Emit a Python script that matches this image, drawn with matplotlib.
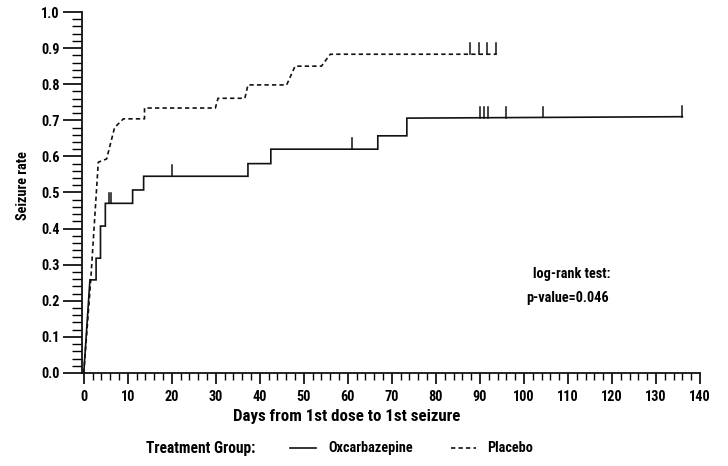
import matplotlib
matplotlib.use("Agg")
import matplotlib.pyplot as plt
from matplotlib import font_manager
from matplotlib.lines import Line2D
from matplotlib.ticker import MultipleLocator, FormatStrFormatter

# --- Data ---
# Kaplan-Meier curve corners, days vs cumulative seizure rate
oxc_days = [0, 1.4, 2.8, 2.8, 3.8, 3.8, 4.9, 4.9, 11.1, 11.1, 13.6, 13.6,
            37.3, 37.3, 42.5, 42.5, 66.8, 66.8, 73.4, 73.4, 136.0]
oxc_rate = [0, 0.258, 0.258, 0.318, 0.318, 0.407, 0.407, 0.47, 0.47, 0.507,
            0.507, 0.545, 0.545, 0.58, 0.58, 0.62, 0.62, 0.657, 0.657, 0.706, 0.71]
oxc_cens_days = [5.7, 6.2, 20.0, 61.0, 90.0, 90.9, 91.8, 95.9, 104.3, 135.9]
oxc_cens_rate = [0.47, 0.47, 0.545, 0.62, 0.706, 0.706, 0.706, 0.707, 0.708, 0.71]

pla_days = [0, 1.6, 3.3, 5.2, 7.0, 9.0, 13.8, 13.8, 29.9, 30.5, 36.6, 37.3,
            46.1, 48.0, 54.0, 56.0, 93.8]
pla_rate = [0, 0.26, 0.584, 0.593, 0.68, 0.704, 0.704, 0.734, 0.734, 0.761,
            0.761, 0.798, 0.798, 0.85, 0.85, 0.883, 0.883]
pla_cens_days = [87.7, 89.8, 91.6, 93.6]
pla_cens_rate = [0.883, 0.883, 0.883, 0.883]

labels = ['Oxcarbazepine', 'Placebo']
pvalue_text = 'p-value=0.046'

# --- Font: a condensed sans if we have one ---
names = {f.name for f in font_manager.fontManager.ttflist}
family = 'DejaVu Sans'
for cand in ['Roboto Condensed', 'Archivo Narrow', 'PT Sans Narrow', 'Liberation Sans Narrow',
             'Asap Condensed', 'Encode Sans Condensed', 'Open Sans Condensed']:
    if cand in names:
        family = cand
        break
plt.rcParams['font.family'] = [family, 'DejaVu Sans']
FS = 10.3
W = 'bold'
INK = '#111111'
DASH = (0, (2.6, 1.9))

fig = plt.figure(figsize=(7.28, 4.66), dpi=100)
ax = fig.add_axes([82 / 728, 1 - 373 / 466, (700 - 82) / 728, (373 - 12) / 466])

ax.plot(oxc_days, oxc_rate, color=INK, lw=1.2, solid_joinstyle='miter')
ax.plot(pla_days, pla_rate, color=INK, lw=1.2, linestyle=DASH)

tick_h = 0.03
for d, r in zip(oxc_cens_days, oxc_cens_rate):
    ax.plot([d, d], [r, r + tick_h], color=INK, lw=1.1)
for d, r in zip(pla_cens_days, pla_cens_rate):
    ax.plot([d, d], [r, r + tick_h], color=INK, lw=1.1)

ax.set_xlim(-0.4, 140)
ax.set_ylim(0, 1.0)
ax.xaxis.set_major_locator(MultipleLocator(10))
ax.xaxis.set_minor_locator(MultipleLocator(2))
ax.yaxis.set_major_locator(MultipleLocator(0.1))
ax.yaxis.set_minor_locator(MultipleLocator(0.02))
ax.yaxis.set_major_formatter(FormatStrFormatter('%.1f'))

for s in ['top', 'right']:
    ax.spines[s].set_visible(False)
for s in ['left', 'bottom']:
    ax.spines[s].set_linewidth(1.3)
    ax.spines[s].set_color(INK)

ax.tick_params(axis='x', which='major', direction='out', length=8, width=1.2, labelsize=FS, pad=4)
ax.tick_params(axis='x', which='minor', direction='out', length=5, width=1.0)
ax.tick_params(axis='y', which='major', direction='out', length=14, width=1.2, labelsize=FS, pad=2)
ax.tick_params(axis='y', which='minor', direction='out', length=7, width=1.0)
for lab in ax.get_xticklabels() + ax.get_yticklabels():
    lab.set_fontweight(W)

ax.set_xlabel('Days from 1st dose to 1st seizure', fontsize=12.2, fontweight=W)
ax.xaxis.set_label_coords((347 - 82) / 618, -36 / 361)
ax.set_ylabel('Seizure rate', fontsize=FS, fontweight=W)
ax.yaxis.set_label_coords(-52 / 618, 0.52)

ax.text(110.9, 0.274, 'log-rank test:', ha='center', va='center', fontsize=FS, fontweight=W)
ax.text(109.8, 0.208, pvalue_text, ha='center', va='center', fontsize=FS, fontweight=W)

# legend row at the bottom, laid out like the original
ly = 1 - 448 / 466
fig.text(146 / 728, ly, 'Treatment Group:', ha='left', va='center', fontsize=11.2, fontweight=W)
fig.add_artist(Line2D([290 / 728, 316 / 728], [ly, ly], color=INK, lw=1.2))
fig.text(328 / 728, ly, labels[0], ha='left', va='center', fontsize=FS, fontweight=W)
fig.add_artist(Line2D([451 / 728, 476 / 728], [ly, ly], color=INK, lw=1.2, linestyle=DASH))
fig.text(487 / 728, ly, labels[1], ha='left', va='center', fontsize=FS, fontweight=W)

fig.savefig('out.png', dpi=100)
